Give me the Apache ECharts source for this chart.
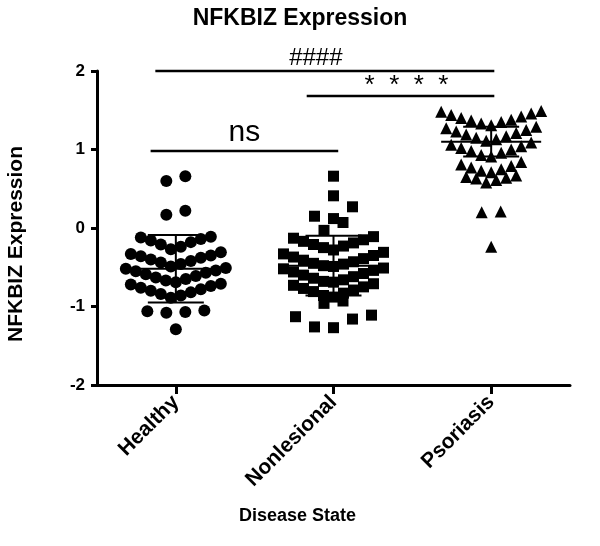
<!DOCTYPE html>
<html>
<head>
<meta charset="utf-8">
<script src="https://cdn.jsdelivr.net/npm/echarts@6/dist/echarts.min.js"></script>
<style>
html,body{margin:0;padding:0;background:#fff;}
#chart{width:600px;height:546px;}
</style>
</head>
<body>
<div id="chart"></div>
<script>
// ---- data ----
const categories = ['Healthy', 'Nonlesional', 'Psoriasis'];
const yTicks = [-2, -1, 0, 1, 2];

const healthyValues = [
  0.66, 0.60, 0.22, 0.17,
  -0.11, -0.12, -0.14, -0.16, -0.18, -0.21, -0.24, -0.27,
  -0.31, -0.33, -0.35, -0.36, -0.38, -0.40, -0.42, -0.44, -0.46, -0.49,
  -0.51, -0.52, -0.54, -0.55, -0.57, -0.59, -0.61, -0.63, -0.65, -0.67, -0.69,
  -0.71, -0.72, -0.74, -0.76, -0.78, -0.80, -0.82, -0.84, -0.86, -0.89,
  -1.05, -1.06, -1.07, -1.08,
  -1.29
];
const nonlesionalValues = [
  0.66, 0.41, 0.27, 0.15, 0.12, 0.07, -0.03,
  -0.11, -0.13, -0.15, -0.17, -0.19, -0.21, -0.23, -0.25, -0.28,
  -0.31, -0.33, -0.35, -0.37, -0.39, -0.41, -0.43, -0.45, -0.46, -0.48, -0.49,
  -0.51, -0.52, -0.54, -0.56, -0.58, -0.60, -0.62, -0.64, -0.66, -0.68, -0.69,
  -0.71, -0.73, -0.75, -0.77, -0.79, -0.81, -0.83, -0.86, -0.88,
  -0.93, -0.96,
  -1.11, -1.13, -1.16, -1.26, -1.27
];
const psoriasisValues = [
  1.31, 1.33, 1.35, 1.37, 1.38, 1.40, 1.42, 1.44, 1.46, 1.48, 1.49,
  1.11, 1.13, 1.15, 1.17, 1.19, 1.21, 1.23, 1.25, 1.27, 1.29,
  0.91, 0.93, 0.96, 0.98, 1.00, 1.02, 1.04, 1.06, 1.09,
  0.71, 0.73, 0.75, 0.77, 0.79, 0.81, 0.84,
  0.58, 0.61, 0.63, 0.64, 0.65, 0.67,
  0.20, 0.21,
  -0.24
];
const groupMeans = [-0.52, -0.48, 1.10];
const groupSDs = [0.43, 0.38, 0.19];

const comparisonLabels = ['####', '*  *  *  *', 'ns'];
const comparisonLevels = [2.0, 1.68, 0.98];
const comparisonFrom = [-0.13, 0.83, -0.16];
const comparisonTo = [2.02, 2.02, 1.03];

// ---- layout ----
const W = 600, H = 546;
const GRID = {left: 97, right: 30, top: 71, bottom: 161};
const pxPerUnit = (W - GRID.left - GRID.right) / 3;
const FONT = 'Liberation Sans, Arial, sans-serif';

// beeswarm-like layout: bin values, spread each bin horizontally, lowest in the middle
function swarm(values, gi) {
  const bins = {};
  values.forEach(v => {
    const k = Math.round(v / 0.2);
    (bins[k] = bins[k] || []).push(v);
  });
  const pts = [];
  Object.keys(bins).forEach(k => {
    const vs = bins[k].slice().sort((a, b) => a - b);
    const n = vs.length;
    const sp = n <= 5 ? 19 : 10;
    const pos = [];
    for (let i = 0; i < n; i++) pos.push((i - (n - 1) / 2) * sp);
    pos.sort((a, b) => Math.abs(a) - Math.abs(b) || a - b);
    vs.forEach((v, i) => pts.push([gi + pos[i] / pxPerUnit, v]));
  });
  return pts;
}

const groups = [healthyValues, nonlesionalValues, psoriasisValues];
const symbols = ['circle', 'rect', 'triangle'];
const symbolSizes = [12, 11, 12];

const chart = echarts.init(document.getElementById('chart'), null, {renderer: 'canvas'});

const scatterSeries = groups.map((vals, gi) => ({
  type: 'scatter',
  name: categories[gi],
  xAxisIndex: 1,
  symbol: symbols[gi],
  symbolSize: symbolSizes[gi],
  itemStyle: {color: '#000', opacity: 1},
  data: swarm(vals, gi),
  z: 2
}));

const errorSeries = {
  type: 'custom',
  xAxisIndex: 1,
  z: 3,
  data: categories.map((c, i) => [i, groupMeans[i], groupSDs[i]]),
  renderItem: function (params, api) {
    const i = api.value(0), m = api.value(1), s = api.value(2);
    const c = api.coord([i, m]);
    const t = api.coord([i, m + s]);
    const b = api.coord([i, m - s]);
    const st = {stroke: '#000', lineWidth: 2};
    return {
      type: 'group',
      children: [
        {type: 'line', shape: {x1: c[0] - 50, y1: c[1], x2: c[0] + 50, y2: c[1]}, style: st},
        {type: 'line', shape: {x1: t[0], y1: t[1], x2: b[0], y2: b[1]}, style: st},
        {type: 'line', shape: {x1: t[0] - 28, y1: t[1], x2: t[0] + 28, y2: t[1]}, style: st},
        {type: 'line', shape: {x1: b[0] - 28, y1: b[1], x2: b[0] + 28, y2: b[1]}, style: st}
      ]
    };
  }
};

const labelFonts = ['24px Liberation Sans', '26px Liberation Sans', '30px Liberation Sans'];
const labelGaps = [1, -3, 3];
const labelDx = [-9, 6, 0];
const bracketSeries = {
  type: 'custom',
  xAxisIndex: 1,
  z: 4,
  data: comparisonLabels.map((l, i) => [comparisonFrom[i], comparisonTo[i], comparisonLevels[i]]),
  renderItem: function (params, api) {
    const i = params.dataIndex;
    const p1 = api.coord([api.value(0), api.value(2)]);
    const p2 = api.coord([api.value(1), api.value(2)]);
    return {
      type: 'group',
      children: [
        {type: 'line', shape: {x1: p1[0], y1: p1[1], x2: p2[0], y2: p2[1]}, style: {stroke: '#000', lineWidth: 2.5}},
        {type: 'text', x: (p1[0] + p2[0]) / 2 + labelDx[i], y: p1[1] - labelGaps[i],
          style: {text: comparisonLabels[i], font: labelFonts[i], fill: '#000', align: 'center', verticalAlign: 'bottom'}}
      ]
    };
  }
};

const option = {
  animation: false,
  backgroundColor: '#fff',
  title: {
    text: 'NFKBIZ Expression',
    left: 'center', top: 2,
    textStyle: {fontFamily: FONT, fontWeight: 'bold', fontSize: 23, color: '#000'}
  },
  grid: {left: GRID.left, right: GRID.right, top: GRID.top, bottom: GRID.bottom, containLabel: false, outerBoundsMode: 'none'},
  xAxis: [
    {
      type: 'category', data: categories, boundaryGap: true,
      axisLine: {show: true, onZero: false, lineStyle: {color: '#000', width: 3}},
      axisTick: {show: true, alignWithLabel: true, length: 9, lineStyle: {color: '#000', width: 3}},
      axisLabel: {rotate: 45, fontSize: 21, fontWeight: 'bold', color: '#000', fontFamily: FONT, margin: 14},
      splitLine: {show: false},
      name: 'Disease State', nameLocation: 'middle', nameGap: 122,
      nameTextStyle: {fontSize: 18, fontWeight: 'bold', color: '#000', fontFamily: FONT, padding: [0, 72, 0, 0]}
    },
    {type: 'value', min: -0.5, max: 2.5, show: false}
  ],
  yAxis: {
    type: 'value', min: yTicks[0], max: yTicks[yTicks.length - 1], interval: 1,
    axisLine: {show: true, onZero: false, lineStyle: {color: '#000', width: 3}},
    axisTick: {show: true, length: 6, lineStyle: {color: '#000', width: 3}},
    axisLabel: {fontSize: 17, fontWeight: 'bold', color: '#000', fontFamily: FONT, margin: 12},
    splitLine: {show: false},
    name: 'NFKBIZ Expression', nameLocation: 'middle', nameGap: 70, nameRotate: 90,
    nameTextStyle: {fontSize: 21, fontWeight: 'bold', color: '#000', fontFamily: FONT, padding: [0, 32, 0, 0]}
  },
  series: scatterSeries.concat([errorSeries, bracketSeries])
};
chart.setOption(option);
</script>
</body>
</html>
